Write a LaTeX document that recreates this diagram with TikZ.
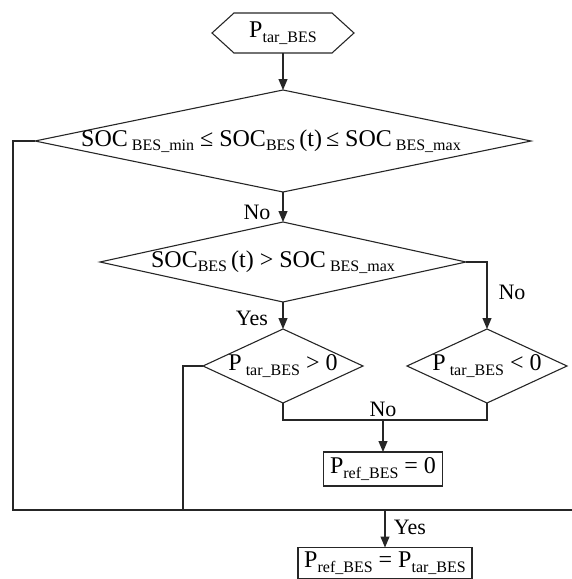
\documentclass[tikz,border=0pt]{standalone}
\usepackage{fontspec}
\setmainfont{Liberation Serif}
\usetikzlibrary{shapes.geometric,arrows.meta}
\newcommand{\sbs}[1]{\raisebox{-0.4ex}{\fontsize{16}{16}\selectfont #1}}
\tikzset{
  ln/.style={line width=1.1pt, draw=black!85},
  arr/.style={ln, -{Triangle[length=11pt,width=9pt]}},
  dec/.style={diamond, ln, inner sep=0pt, outer sep=0pt, aspect=1},
  txt/.style={font=\fontsize{24}{28}\selectfont, inner sep=0pt},
  lab/.style={font=\fontsize{22}{26}\selectfont, inner sep=0pt},
  res/.style={rectangle, ln, inner sep=0pt, outer sep=0pt, font=\fontsize{24}{28}\selectfont},
}
\begin{document}
\begin{tikzpicture}[x=1pt,y=-1pt]
\useasboundingbox (0,0) rectangle (572,579);
% start hexagon
\node[txt, minimum width=142pt, minimum height=40pt, outer sep=0pt] (hex) at (283,33) {P\sbs{tar\_BES}};
\draw[ln] (hex.west) -- ([xshift=22pt]hex.north west) -- ([xshift=-22pt]hex.north east) -- (hex.east) -- ([xshift=-22pt]hex.south east) -- ([xshift=22pt]hex.south west) -- cycle;
% decisions
\node[dec, minimum width=496pt, minimum height=102pt, label={[txt,xshift=-12pt]center:SOC\,\sbs{BES\_min} ≤ SOC\sbs{BES}\,(t)\,≤ SOC\,\sbs{BES\_max}}] (d1) at (283,141) {};
\node[dec, minimum width=366pt, minimum height=80pt, label={[txt,xshift=-10pt]center:SOC\sbs{BES}\,(t) > SOC\,\sbs{BES\_max}}] (d2) at (283,262) {};
\node[dec, minimum width=160pt, minimum height=74pt, label={[txt]center:P\,\sbs{tar\_BES} > 0}] (d3l) at (283,366) {};
\node[dec, minimum width=160pt, minimum height=74pt, label={[txt]center:P\,\sbs{tar\_BES} < 0}] (d3r) at (487,366) {};
% results
\node[res, minimum width=119pt, minimum height=34pt] (r0) at (383,469) {P\sbs{ref\_BES} = 0};
\node[res, minimum width=174pt, minimum height=31pt] (r1) at (385,563) {P\sbs{ref\_BES} = P\sbs{tar\_BES}};
% bend coordinates
\coordinate (b1) at (487,262);
\coordinate (m1) at (283,420);
\coordinate (m2) at (487,420);
\coordinate (m0) at (383,420);
\coordinate (l1) at (13,141);
\coordinate (l2) at (13,510);
\coordinate (l3) at (183,366);
\coordinate (l4) at (183,510);
\coordinate (rend) at (572,510);
\coordinate (y0) at (385,510);
% connectors
\draw[arr] (hex.south) -- (d1.north);
\draw[arr] (d1.south) -- (d2.north);
\draw[arr] (d2.south) -- (d3l.north);
\draw[arr] (d2.east) -- (b1) -- (d3r.north);
\draw[ln] (d3l.south) -- (m1) -- (m2) -- (d3r.south);
\draw[arr] (m0) -- (r0.north);
\draw[ln] (d1.west) -- (l1) -- (l2) -- (rend);
\draw[ln] (d3l.west) -- (l3) -- (l4);
\draw[arr] (y0) -- (r1.north);
% labels
\node[lab] (n1) at (257,212) {No};
\node[lab] (y1) at (252,318) {Yes};
\node[lab] (n2) at (512,292) {No};
\node[lab] (n3) at (383,409) {No};
\node[lab] (y2) at (410,527) {Yes};
\end{tikzpicture}
\end{document}
